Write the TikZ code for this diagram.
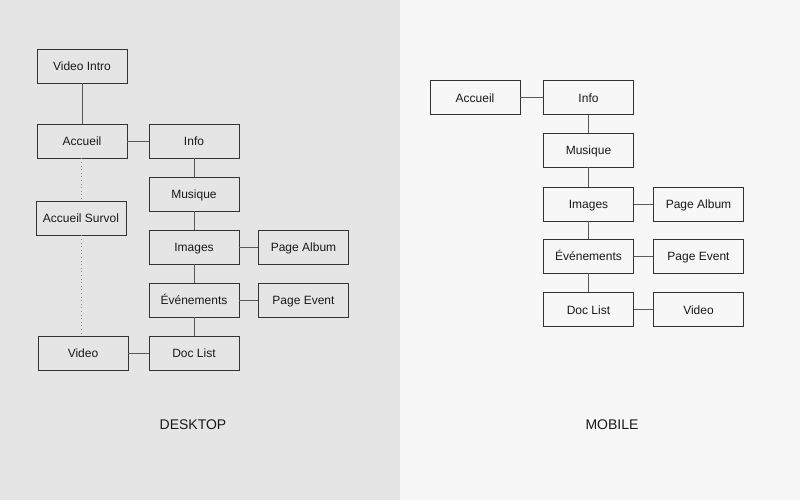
\documentclass[tikz,border=0pt]{standalone}
\usepackage{fontspec}
\setmainfont{Liberation Sans}
\begin{document}
\begin{tikzpicture}[x=0.75pt,y=-0.75pt,
  box/.style={draw=black!80,line width=0.65pt,minimum width=67.5pt,minimum height=25.5pt,inner sep=0pt,text height=8pt,text depth=1pt,font=\fontsize{9}{11}\selectfont,text=black!90},
  link/.style={draw=black!65,line width=0.7pt},
  dotlink/.style={draw=black!45,line width=0.7pt,dotted},
  caption/.style={font=\fontsize{10.5}{12}\selectfont,text=black!90}]
\fill[black!10] (0,0) rectangle (400,500);
\fill[black!3] (400,0) rectangle (800,500);
\useasboundingbox (0,0) rectangle (800,500);
% Desktop
\node[box,fill=black!10] (vi) at (82,66) {Video Intro};
\node[box,fill=black!10] (acc) at (82,141) {Accueil};
\node[box,fill=black!10] (info) at (194,141) {Info};
\node[box,fill=black!10] (surv) at (81,218) {Accueil Survol};
\node[box,fill=black!10] (mus) at (194,194) {Musique};
\node[box,fill=black!10] (img) at (194,247) {Images};
\node[box,fill=black!10] (alb) at (303.5,247) {Page Album};
\node[box,fill=black!10] (evt) at (194,300) {Événements};
\node[box,fill=black!10] (pev) at (303.5,300) {Page Event};
\node[box,fill=black!10] (vid) at (83,353) {Video};
\node[box,fill=black!10] (doc) at (194,353) {Doc List};
\draw[link] (vi) -- (acc);
\draw[link] (acc) -- (info);
\draw[link] (info) -- (mus);
\draw[link] (mus) -- (img);
\draw[link] (img) -- (alb);
\draw[link] (img) -- (evt);
\draw[link] (evt) -- (pev);
\draw[link] (evt) -- (doc);
\draw[link] (vid) -- (doc);
\draw[dotlink] (acc.south -| surv) -- (surv.north);
\draw[dotlink] (surv.south) -- (vid.north -| surv);
\node[caption] (dk) at (193,425) {DESKTOP};
% Mobile
\node[box,fill=black!3] (macc) at (475,97.5) {Accueil};
\node[box,fill=black!3] (minfo) at (588.5,97.5) {Info};
\node[box,fill=black!3] (mmus) at (588.5,150) {Musique};
\node[box,fill=black!3] (mimg) at (588.5,204) {Images};
\node[box,fill=black!3] (malb) at (698.5,204) {Page Album};
\node[box,fill=black!3] (mevt) at (588.5,256) {Événements};
\node[box,fill=black!3] (mpev) at (698.5,256) {Page Event};
\node[box,fill=black!3] (mdoc) at (588.5,309.5) {Doc List};
\node[box,fill=black!3] (mvid) at (698.5,309.5) {Video};
\draw[link] (macc) -- (minfo);
\draw[link] (minfo) -- (mmus);
\draw[link] (mmus) -- (mimg);
\draw[link] (mimg) -- (malb);
\draw[link] (mimg) -- (mevt);
\draw[link] (mevt) -- (mpev);
\draw[link] (mevt) -- (mdoc);
\draw[link] (mdoc) -- (mvid);
\node[caption] (mb) at (612,425) {MOBILE};
\end{tikzpicture}
\end{document}
